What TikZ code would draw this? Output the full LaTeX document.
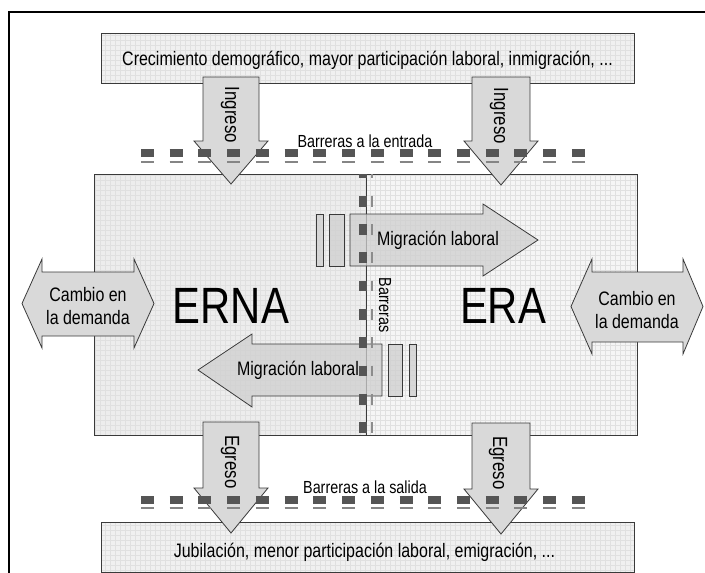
\documentclass[tikz,border=0pt]{standalone}
\usepackage{fontspec}
\setmainfont{Liberation Sans}[FakeStretch=0.82]
\definecolor{bgdark}{HTML}{EDEDED}
\definecolor{bglight}{HTML}{F5F5F5}
\definecolor{bgbox}{HTML}{F0F0F0}
\definecolor{gridc}{HTML}{E0E0E0}
\definecolor{arrowfill}{HTML}{D9D9D9}
\definecolor{migfill}{HTML}{CFCFCF}
\definecolor{edge}{HTML}{3A3A3A}
\definecolor{bardark}{HTML}{555555}
\definecolor{barthin}{HTML}{858585}
\newcommand{\gridrect}[5]{%
  \fill[#5] (#1,#2) rectangle (#3,#4);
  \draw[gridc, line width=0.35pt, step=5pt] (#1,#2) grid (#3,#4);
}
\begin{document}
\begin{tikzpicture}[x=1pt,y=-1pt,
  boxline/.style={draw=edge, line width=0.9pt},
  arr/.style={fill=arrowfill, draw=edge, line width=0.8pt, line join=miter},
  mig/.style={fill=migfill, fill opacity=0.75, draw=edge, line width=0.8pt, line join=miter},
  lbl/.style={font=\fontsize{19.5}{23}\selectfont, inner sep=0pt, align=center},
  vlbl/.style={font=\fontsize{20.5}{23}\selectfont, inner sep=0pt, rotate=-90},
  small/.style={font=\fontsize{17.5}{20}\selectfont, inner sep=0pt},
  big/.style={font=\fontsize{51}{55}\selectfont, inner sep=0pt},
  hbar/.style={bardark, line width=8pt, dash pattern=on 13pt off 15.73pt},
  hthin/.style={barthin, line width=2pt, dash pattern=on 13pt off 15.73pt},
  vbar/.style={bardark, line width=8pt, dash pattern=on 10.8pt off 17.5pt, dash phase=6.6pt},
  vthin/.style={black!45, line width=2.5pt, dash pattern=on 10.8pt off 17.5pt, dash phase=6.6pt}
]
\useasboundingbox (0,0) rectangle (705,573);
\fill[white] (0,0) rectangle (705,573);

% frame
\draw[black, line width=1.3pt] (9,573) -- (9,12) -- (705,12);

% top and bottom boxes
\gridrect{101}{33}{634}{83}{bgbox}
\draw[boxline] (101,33) rectangle (634,83);
\gridrect{101}{522}{634}{572.5}{bgbox}
\draw[boxline] (101,522) rectangle (634,572.5);

% central box
\gridrect{94.5}{174}{366}{435}{bgdark}
\gridrect{366}{174}{637.5}{435}{bglight}
\draw[boxline] (94.5,174) rectangle (637.5,435);

% vertical barrier line
\coordinate (vtop) at (366,174);
\coordinate (vbot) at (366,435);
\draw[edge, line width=1pt] (vtop) -- (vbot);

% ingreso / egreso arrows
\filldraw[arr] (203,77) -- (259,77) -- (259,141) -- (268,141) -- (231,184) -- (194,141) -- (203,141) -- cycle;
\filldraw[arr] (472,77) -- (530,77) -- (530,141) -- (538,141) -- (501,185) -- (464,141) -- (472,141) -- cycle;
\filldraw[arr] (203,422) -- (259,422) -- (259,488) -- (268,488) -- (231,533) -- (194,488) -- (203,488) -- cycle;
\filldraw[arr] (472,423) -- (530,423) -- (530,489) -- (538,489) -- (501,534) -- (464,489) -- (472,489) -- cycle;

% cambio en la demanda double arrows
\filldraw[arr] (22,303.5) -- (42,259) -- (42,272) -- (134,272) -- (134,259) -- (154,303.5) -- (134,348) -- (134,336) -- (42,336) -- (42,348) -- cycle;
\filldraw[arr] (571,306.5) -- (592,259) -- (592,272) -- (683,272) -- (683,259) -- (703,306.5) -- (683,354) -- (683,342) -- (592,342) -- (592,354) -- cycle;

% migration arrows with bars
\filldraw[mig] (350,214) -- (483,214) -- (483,204) -- (538,240) -- (483,276) -- (483,266) -- (350,266) -- cycle;
\filldraw[mig] (316,214) rectangle (323,266);
\filldraw[mig] (329,214) rectangle (344,266);
\filldraw[mig] (382,344) -- (252,344) -- (252,334) -- (198,370) -- (252,407) -- (252,396) -- (382,396) -- cycle;
\filldraw[mig] (388.5,344) rectangle (402.5,396);
\filldraw[mig] (409,344) rectangle (416.5,396);

% vertical barrier squares
\draw[vbar] (363,174) -- (363,435);
\draw[vthin] (372,174) -- (372,435);

% horizontal barriers
\draw[hbar] (141,153) -- (586,153);
\draw[hthin] (141,162) -- (586,162);
\draw[hbar] (141,499.5) -- (586,499.5);
\draw[hthin] (141,508) -- (586,508);

% texts
\node[lbl, anchor=base] (toptext) at (367.5,65) {Crecimiento demográfico, mayor participación laboral, inmigración, ...};
\node[lbl, anchor=base] (bottext) at (364.5,557) {Jubilación, menor participación laboral, emigración, ...};
\node[vlbl] (ing1) at (230,115) {Ingreso};
\node[vlbl] (ing2) at (499,116) {Ingreso};
\node[vlbl] (egr1) at (230,462) {Egreso};
\node[vlbl] (egr2) at (498,463) {Egreso};
\node[small, anchor=base] (bent) at (365,147) {Barreras a la entrada};
\node[small, anchor=base] (bsal) at (365,493) {Barreras a la salida};
\node[small, rotate=-90] (bvert) at (385,305) {Barreras};
\node[big] (erna) at (231,305.5) {ERNA};
\node[big] (era) at (503,306) {ERA};
\node[lbl] (mig1) at (438,240) {Migración laboral};
\node[lbl] (mig2) at (298,370) {Migración laboral};
\node[lbl] (cam1) at (88,306) {Cambio en\\la demanda};
\node[lbl] (cam2) at (637,310) {Cambio en\\la demanda};
\end{tikzpicture}
\end{document}
